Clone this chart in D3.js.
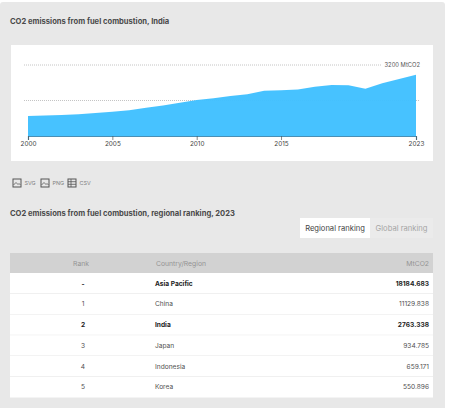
<!DOCTYPE html>
<html>
<head>
<meta charset="utf-8">
<script src="https://cdn.jsdelivr.net/npm/d3@7"></script>
<style>
html, body { margin: 0; padding: 0; background: #fff; }
svg { display: block; }
text { font-family: Inter, "Liberation Sans", sans-serif; }
</style>
</head>
<body>
<div id="chart"></div>
<script>
var years = [2000, 2001, 2002, 2003, 2004, 2005, 2006, 2007, 2008, 2009, 2010, 2011,
	2012, 2013, 2014, 2015, 2016, 2017, 2018, 2019, 2020, 2021, 2022, 2023];
var emissions = [900, 925, 950, 980, 1040, 1095, 1160, 1270, 1380, 1500, 1620, 1700,
	1800, 1880, 2040, 2060, 2100, 2220, 2300, 2285, 2130, 2375, 2570, 2763];
var tickYears = [2000, 2005, 2010, 2015, 2023];
var gridValues = [1600, 3200];

var ranks = ['-', '1', '2', '3', '4', '5'];
var regions = ['Asia Pacific', 'China', 'India', 'Japan', 'Indonesia', 'Korea'];
var rankValues = ['18184.683', '11129.838', '2763.338', '934.785', '659.171', '550.896'];
var boldRows = ['Asia Pacific', 'India'];
var downloads = ['SVG', 'PNG', 'CSV'];

var svg = d3.select('#chart').append('svg')
	.attr('width', 450)
	.attr('height', 408);

// grey card and white chart box
svg.append('rect').attr('x', 0).attr('y', 2).attr('width', 445).attr('height', 410).attr('rx', 3).attr('fill', '#e8e8e8');
svg.append('rect').attr('x', 11).attr('y', 45).attr('width', 422).attr('height', 116).attr('fill', '#fff');

svg.append('text')
	.attr('x', 10).attr('y', 23.5)
	.attr('font-size', 7.6).attr('font-weight', 700).attr('fill', '#4a4a4a')
	.text('CO2 emissions from fuel combustion, India');

var x = d3.scaleLinear().domain([2000, 2023]).range([28, 416]);
var y = d3.scaleLinear().domain([0, 3200]).range([136, 65]);

// dotted grid
svg.selectAll('.grid')
	.data(gridValues)
	.enter().append('line')
		.attr('class', 'grid')
		.attr('x1', 24)
		.attr('x2', function(d) { return d === 3200 ? 382 : 420; })
		.attr('y1', function(d) { return y(d); })
		.attr('y2', function(d) { return y(d); })
		.attr('stroke', '#b5b5b5')
		.attr('stroke-width', 0.8)
		.attr('stroke-dasharray', '1 1');

var area = d3.area()
	.x(function(d, i) { return x(years[i]); })
	.y0(y(0))
	.y1(function(d) { return y(d); });

svg.append('path')
	.datum(emissions)
	.attr('d', area)
	.attr('fill', '#3fc0ff')
	.attr('fill-opacity', 0.96);

var axis = d3.axisBottom(x)
	.tickValues(tickYears)
	.tickFormat(d3.format('d'))
	.tickSize(4)
	.tickPadding(1);

var axisG = svg.append('g')
	.attr('transform', 'translate(0,136)')
	.call(axis);
axisG.select('.domain').attr('stroke', '#4a8fb5').attr('stroke-width', 1.2);
axisG.selectAll('.tick line').attr('stroke', '#555').attr('stroke-width', 0.7);
axisG.selectAll('text').attr('font-size', 6.4).attr('fill', '#444').attr('font-family', 'Inter, sans-serif');

svg.append('text')
	.attr('x', 420).attr('y', y(3200) + 2.2)
	.attr('text-anchor', 'end')
	.attr('font-size', 5.8).attr('fill', '#555')
	.text('3200 MtCO2');

// download links
var dl = svg.selectAll('.dl')
	.data(downloads)
	.enter().append('g')
		.attr('class', 'dl')
		.attr('transform', function(d, i) { return 'translate(' + [13, 41, 68][i] + ',179)'; });
dl.append('rect')
	.attr('width', 8).attr('height', 8)
	.attr('fill', 'none').attr('stroke', '#555').attr('stroke-width', 1);
dl.append('path')
	.attr('d', function(d) { return d === 'CSV' ? 'M0 2.7H8M0 5.3H8M3 0V8' : 'M0.5 6L3 3.5L5 5.5L6 4.5L7.5 6'; })
	.attr('fill', 'none').attr('stroke', '#555').attr('stroke-width', 0.8);
dl.append('text')
	.attr('x', 11.5).attr('y', 6)
	.attr('font-size', 5.4).attr('fill', '#808080')
	.text(function(d) { return d; });

svg.append('text')
	.attr('x', 10).attr('y', 215.5)
	.attr('font-size', 7.6).attr('font-weight', 700).attr('fill', '#4a4a4a')
	.text('CO2 emissions from fuel combustion, regional ranking, 2023');

// ranking tabs
svg.append('rect').attr('x', 300).attr('y', 218).attr('width', 70).attr('height', 20).attr('fill', '#fff');
svg.append('rect').attr('x', 370).attr('y', 218).attr('width', 63).attr('height', 20).attr('fill', '#ebebeb');
svg.append('text').attr('x', 335).attr('y', 230.5).attr('text-anchor', 'middle')
	.attr('font-size', 7.6).attr('fill', '#444').text('Regional ranking');
svg.append('text').attr('x', 401.5).attr('y', 230.5).attr('text-anchor', 'middle')
	.attr('font-size', 7.6).attr('fill', '#a5a5a5').text('Global ranking');

// table
var rowY = d3.scaleBand().domain(regions).range([273, 397.5]);

svg.append('rect').attr('x', 10).attr('y', 253).attr('width', 423).attr('height', 20).attr('fill', '#d2d2d2');
[['Rank', 81, 'middle'], ['Country/Region', 156, 'start'], ['MtCO2', 429, 'end']].forEach(function(h) {
	svg.append('text')
		.attr('x', h[1]).attr('y', 265.5)
		.attr('text-anchor', h[2])
		.attr('font-size', 6.8).attr('fill', '#949494')
		.text(h[0]);
});

var rows = svg.selectAll('.row')
	.data(regions)
	.enter().append('g')
		.attr('class', 'row')
		.attr('transform', function(d) { return 'translate(0,' + rowY(d) + ')'; })
		.attr('font-size', 6.6)
		.attr('font-weight', function(d) { return boldRows.indexOf(d) >= 0 ? 700 : 400; })
		.style('fill', function(d) { return boldRows.indexOf(d) >= 0 ? '#222' : '#4f4f4f'; });

rows.append('rect')
	.attr('x', 10).attr('width', 423)
	.attr('height', rowY.bandwidth())
	.attr('fill', '#fff');
rows.append('line')
	.attr('x1', 10).attr('x2', 433)
	.attr('y1', rowY.bandwidth()).attr('y2', rowY.bandwidth())
	.attr('stroke', function(d, i) { return i === regions.length - 1 ? 'none' : '#e6e6e6'; });
rows.append('text')
	.attr('x', 83).attr('y', 12.5).attr('text-anchor', 'middle')
	.text(function(d, i) { return ranks[i]; });
rows.append('text')
	.attr('x', 155).attr('y', 12.5)
	.text(function(d) { return d; });
rows.append('text')
	.attr('x', 429).attr('y', 12.5).attr('text-anchor', 'end')
	.text(function(d, i) { return rankValues[i]; });
</script>
</body>
</html>
